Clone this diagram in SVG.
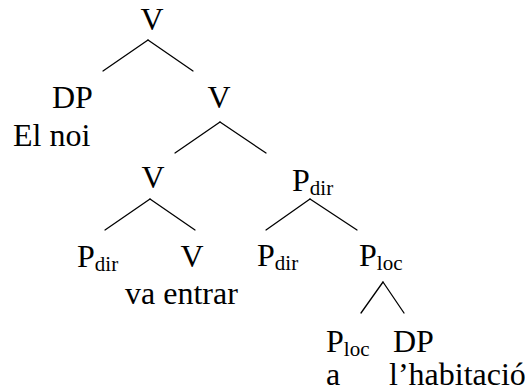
<svg xmlns="http://www.w3.org/2000/svg" width="525" height="392" viewBox="0 0 525 392">
<style>
text { font-family: "Liberation Serif", "Times New Roman", serif; font-size: 32px; fill: #000; }
.sub { font-size: 21px; }
.c { text-anchor: middle; }
#edges line { stroke: #000; stroke-width: 1.3; stroke-linecap: round; }
</style>
<rect width="525" height="392" fill="#fff"/>
<g id="edges">
<line x1="148" y1="40" x2="103" y2="71"/>
<line x1="148" y1="40" x2="193" y2="71"/>
<line x1="220" y1="122" x2="175" y2="153"/>
<line x1="220" y1="122" x2="266" y2="153"/>
<line x1="150" y1="199" x2="105" y2="230"/>
<line x1="150" y1="199" x2="195" y2="230"/>
<line x1="310" y1="199" x2="266" y2="230"/>
<line x1="310" y1="199" x2="357" y2="230"/>
<line x1="383" y1="282" x2="361" y2="313"/>
<line x1="383" y1="282" x2="404" y2="313"/>
</g>
<g id="n-root"><text class="c" x="152" y="30">V</text></g>
<g id="n-dp1"><text x="52" y="108">DP</text><text x="13" y="146">El noi</text></g>
<g id="n-v2"><text class="c" x="219" y="108">V</text></g>
<g id="n-v3"><text class="c" x="153" y="188">V</text></g>
<g id="n-pdir1"><text x="292" y="191">P<tspan class="sub" dy="4">dir</tspan></text></g>
<g id="n-pdir2"><text x="77" y="267">P<tspan class="sub" dy="4">dir</tspan></text></g>
<g id="n-v4"><text class="c" x="192" y="267">V</text><text x="125" y="304">va entrar</text></g>
<g id="n-pdir3"><text x="257" y="266">P<tspan class="sub" dy="4">dir</tspan></text></g>
<g id="n-ploc1"><text x="359" y="266">P<tspan class="sub" dy="4">loc</tspan></text></g>
<g id="n-ploc2"><text x="326" y="352">P<tspan class="sub" dy="4">loc</tspan></text><text x="326" y="385">a</text></g>
<g id="n-dp2"><text x="393" y="352">DP</text><text x="389" y="385">l’habitació</text></g>
</svg>
